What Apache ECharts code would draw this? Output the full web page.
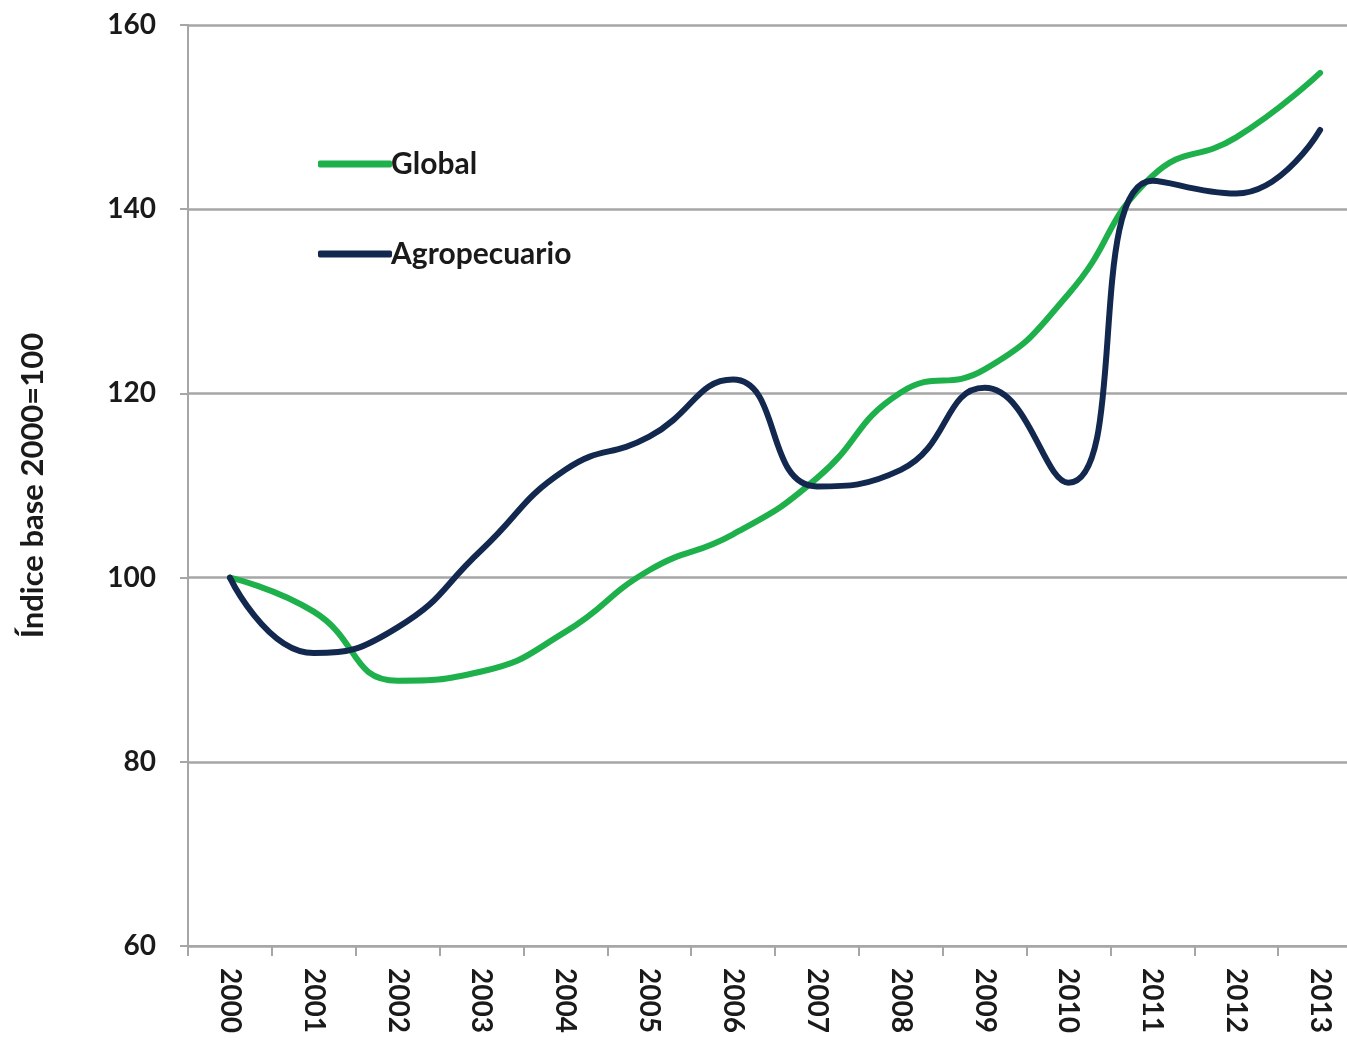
<!DOCTYPE html>
<html>
<head>
<meta charset="utf-8">
<script src="https://cdn.jsdelivr.net/npm/echarts@6/dist/echarts.min.js"></script>
<style>
html,body{margin:0;padding:0;background:#fff;}
#chart{width:1347px;height:1043px;}
</style>
</head>
<body>
<div id="chart"></div>
<script>
const years = ['2000','2001','2002','2003','2004','2005','2006','2007','2008','2009','2010','2011','2012','2013'];
const globalValues = [100, 96.3, 88.8, 89.8, 94.1, 100.8, 104.7, 110.8, 120.1, 122.6, 130.8, 143.6, 147.8, 154.8];
const agroValues = [100, 91.8, 94.6, 103.0, 111.7, 115.3, 121.5, 109.9, 111.7, 120.6, 110.3, 143.1, 141.7, 148.6];
const yTicks = { min: 60, max: 160, interval: 20 };
const yAxisTitle = 'Índice base 2000=100';
const seriesNames = ['Global', 'Agropecuario'];

const chart = echarts.init(document.getElementById('chart'));
const fontFam = 'Lato, "Open Sans", sans-serif';
chart.setOption({
  backgroundColor: '#ffffff',
  animation: false,
  grid: { left: 188, right: -15, top: 25, bottom: 97, containLabel: false, outerBoundsMode: 'none' },
  legend: {
    orient: 'vertical',
    left: 313,
    top: 144,
    itemGap: 60,
    icon: 'roundRect',
    itemWidth: 74,
    itemHeight: 7,
    textStyle: { fontFamily: fontFam, fontWeight: 'bold', fontSize: 30, color: '#1a1a1a', padding: [0,0,0,-6] },
    data: seriesNames
  },
  xAxis: {
    type: 'category',
    data: years,
    boundaryGap: true,
    axisLine: { lineStyle: { color: '#a6a6a6', width: 2 } },
    axisTick: { show: true, length: 10, lineStyle: { color: '#a6a6a6', width: 2 } },
    axisLabel: { rotate: -90, margin: 22, fontFamily: fontFam, fontWeight: 'bold', fontSize: 28, color: '#1a1a1a' },
    splitLine: { show: false }
  },
  yAxis: {
    type: 'value',
    min: yTicks.min, max: yTicks.max, interval: yTicks.interval,
    name: yAxisTitle,
    nameLocation: 'middle',
    nameRotate: 90,
    nameGap: 140,
    nameTextStyle: { fontFamily: fontFam, fontWeight: 'bold', fontSize: 31, color: '#1a1a1a' },
    axisLine: { show: true, lineStyle: { color: '#a6a6a6', width: 2 } },
    axisTick: { show: true, length: 8, lineStyle: { color: '#a6a6a6', width: 2 } },
    axisLabel: { margin: 32, fontFamily: fontFam, fontWeight: 'bold', fontSize: 28, color: '#1a1a1a' },
    splitLine: { show: true, lineStyle: { color: '#a6a6a6', width: 2.5 } }
  },
  series: [
    {
      name: seriesNames[0], type: 'line', data: globalValues, smooth: 0.5,
      symbol: 'none', lineStyle: { color: '#1db04b', width: 6, cap: 'round' },
      itemStyle: { color: '#1db04b' }, z: 3
    },
    {
      name: seriesNames[1], type: 'line', data: agroValues, smooth: 0.5,
      symbol: 'none', lineStyle: { color: '#13284f', width: 6, cap: 'round' },
      itemStyle: { color: '#13284f' }, z: 4
    }
  ]
});
</script>
</body>
</html>
